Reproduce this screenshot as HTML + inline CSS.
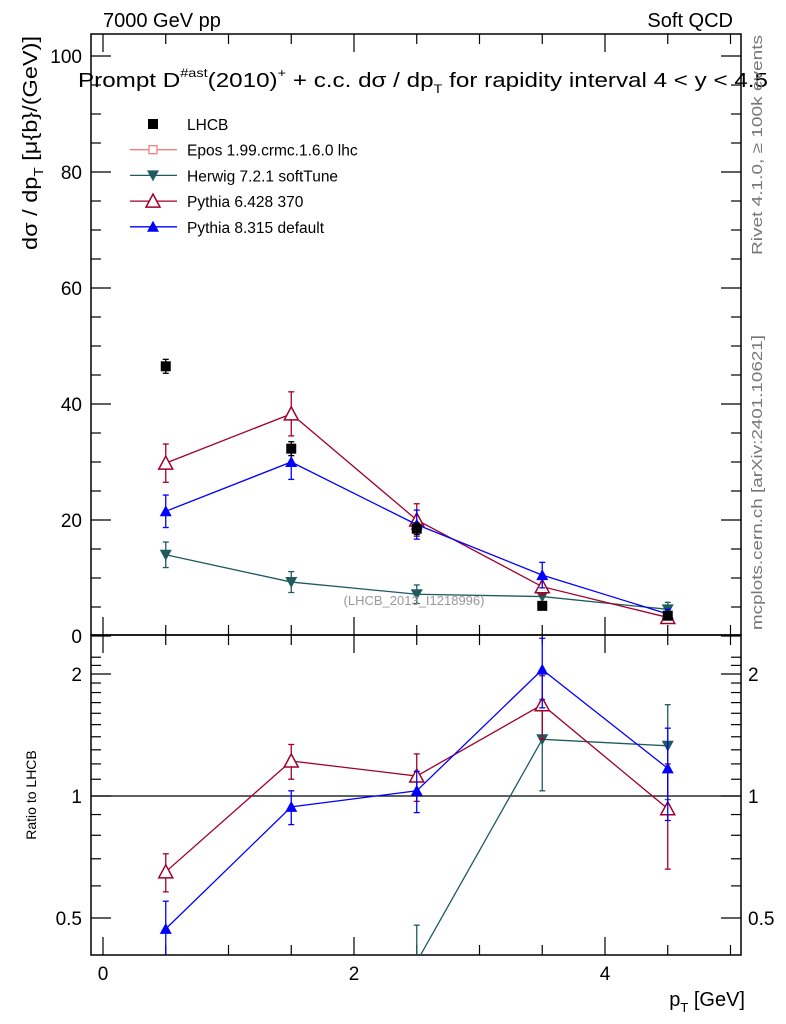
<!DOCTYPE html>
<html><head><meta charset="utf-8"><style>
html,body{margin:0;padding:0;background:#fff}
svg{display:block;font-family:"Liberation Sans",sans-serif}
</style></head><body>
<svg id="c" width="786" height="1024" viewBox="0 0 786 1024">
<g id="g"></g>
<text x="103" y="27" font-size="20">7000 GeV pp</text>
<text x="733" y="27" font-size="20" text-anchor="end">Soft QCD</text>
<text x="78" y="87" font-size="20" textLength="690" lengthAdjust="spacingAndGlyphs">Prompt D<tspan font-size="12" dy="-10">#ast</tspan><tspan dy="10">(2010)</tspan><tspan font-size="12" dy="-10">+</tspan><tspan dy="10"> + c.c.  dσ / dp</tspan><tspan font-size="12" dy="6">T</tspan><tspan dy="-6"> for rapidity interval 4 &lt; y &lt; 4.5</tspan></text>
<text transform="translate(37,250) rotate(-90)" font-size="20" textLength="214" lengthAdjust="spacingAndGlyphs">dσ / dp<tspan font-size="13" dy="6">T</tspan><tspan dy="-6"> [μ{b}/(GeV)]</tspan></text>
<text transform="translate(36,795) rotate(-90)" font-size="14" text-anchor="middle">Ratio to LHCB</text>
<text x="745" y="1006" font-size="20" text-anchor="end">p<tspan font-size="13" dy="6">T</tspan><tspan dy="-6"> [GeV]</tspan></text>
<text x="414" y="605" font-size="13" text-anchor="middle" fill="#999">(LHCB_2013_I1218996)</text>
<text transform="translate(762,255) rotate(-90)" font-size="15" fill="#777" textLength="220" lengthAdjust="spacingAndGlyphs">Rivet 4.1.0, ≥ 100k events</text>
<text transform="translate(762,630) rotate(-90)" font-size="15" fill="#777" textLength="295" lengthAdjust="spacingAndGlyphs">mcplots.cern.ch [arXiv:2401.10621]</text>
</svg>
<script>
const categories=[0.5,1.5,2.5,3.5,4.5];
const lhcb=[46.5,32.3,18.5,5.2,3.5];
const lhcbErr=[1.2,1.2,1.0,0.5,0.4];
const herwig=[14.0,9.3,7.2,6.8,4.6];
const herwigErr=[2.2,1.8,1.6,1.4,1.2];
const pythia6=[29.8,38.3,20.0,8.5,3.2];
const pythia6Err=[3.3,3.8,2.8,1.5,0.8];
const pythia8=[21.5,30.0,19.2,10.5,3.8];
const pythia8Err=[2.8,3.0,2.5,2.2,0.8];
const herwigRatio=[0.30,0.29,0.39,1.38,1.33];
const herwigRatioErr=[0.05,0.05,0.09,0.35,0.35];
const pythia6Ratio=[0.65,1.22,1.12,1.68,0.93];
const pythia6RatioErr=[0.07,0.12,0.15,0.3,0.27];
const pythia8Ratio=[0.47,0.94,1.03,2.05,1.17];
const pythia8RatioErr=[0.08,0.09,0.12,0.4,0.3];
const xTicks=[0,2,4];
const yTicks=[0,20,40,60,80,100];
const rTicks=[0.5,1,2];

const NS='http://www.w3.org/2000/svg';
const g=document.getElementById('g');
const L=91,R=741,T=34,M=635,B=955;
function X(v){return 103+(v)*125.5;}
function Y(v){return 636-v*5.8;}
function RY(v){return 796-Math.log2(v)*122;}
function el(t,a,p){const e=document.createElementNS(NS,t);for(const k in a)e.setAttribute(k,a[k]);(p||g).appendChild(e);return e;}
function txt(s,x,y,size,anchor,fill){const e=el('text',{x:x,y:y,'font-size':size,'text-anchor':anchor||'start',fill:fill||'#000'});e.textContent=s;return e;}

const defs=el('defs',{});
const c1=el('clipPath',{id:'ctop'},defs);el('rect',{x:L,y:T,width:R-L,height:M-T},c1);
const c2=el('clipPath',{id:'cbot'},defs);el('rect',{x:L,y:M,width:R-L,height:B-M},c2);

let f=el('rect',{x:L,y:T,width:R-L,height:M-T,fill:'none',stroke:'#000','stroke-width':1.5});

f=el('rect',{x:L,y:M,width:R-L,height:B-M,fill:'none',stroke:'#000','stroke-width':1.5});


for(let v=0;v<=5;v+=0.5){const maj=Math.abs(v%2)<1e-9;const len=maj?18:10;const x=X(v);
 el('line',{x1:x,y1:M,x2:x,y2:M-len,stroke:'#000','stroke-width':1.2});
 el('line',{x1:x,y1:T,x2:x,y2:T+len,stroke:'#000','stroke-width':1.2});
 el('line',{x1:x,y1:B,x2:x,y2:B-len,stroke:'#000','stroke-width':1.2});
 el('line',{x1:x,y1:M,x2:x,y2:M+len,stroke:'#000','stroke-width':1.2});}
xTicks.forEach(v=>{const t=txt(String(v),X(v),980,19,'middle');});
for(let v=0;v<=100;v+=5){const maj=v%20===0;const len=maj?20:10;const y=Y(v);
 el('line',{x1:L,y1:y,x2:L+len,y2:y,stroke:'#000','stroke-width':1.2});
 el('line',{x1:R,y1:y,x2:R-len,y2:y,stroke:'#000','stroke-width':1.2});}
yTicks.forEach(v=>{const t=txt(String(v),82,Y(v)+7,19,'end');});
const rMinor=[0.4,0.6,0.7,0.8,0.9,1.1,1.2,1.3,1.4,1.5,1.6,1.7,1.8,1.9,2.1,2.2];
rMinor.forEach(v=>{const y=RY(v);if(y<M||y>B)return;
 el('line',{x1:L,y1:y,x2:L+10,y2:y,stroke:'#000','stroke-width':1.2});
 el('line',{x1:R,y1:y,x2:R-10,y2:y,stroke:'#000','stroke-width':1.2});});
rTicks.forEach(v=>{const y=RY(v);
 el('line',{x1:L,y1:y,x2:L+20,y2:y,stroke:'#000','stroke-width':1.2});
 el('line',{x1:R,y1:y,x2:R-20,y2:y,stroke:'#000','stroke-width':1.2});
 let t=txt(String(v),82,y+7,19,'end');
 t=txt(String(v),748,y+7,19,'start');});
el('line',{x1:L,y1:RY(1),x2:R,y2:RY(1),stroke:'#000','stroke-width':1.2});

function marker(type,x,y,color,p){
 if(type==='sq')return el('rect',{x:x-5,y:y-5,width:10,height:10,fill:color},p);
 if(type==='down')return el('polygon',{points:`${x-6},${y-5} ${x+6},${y-5} ${x},${y+6}`,fill:color},p);
 if(type==='upo')return el('polygon',{points:`${x-7},${y+6} ${x+7},${y+6} ${x},${y-7}`,fill:'#fff',stroke:color,'stroke-width':1.5},p);
 if(type==='up')return el('polygon',{points:`${x-6},${y+5} ${x+6},${y+5} ${x},${y-6}`,fill:color},p);
}
function series(name,vals,errs,yf,color,type,clip,line){
 const grp=el('g',{'clip-path':`url(#${clip})`});
 
 if(line){const pts=categories.map((c,i)=>X(c)+','+yf(vals[i])).join(' ');
  el('polyline',{points:pts,fill:'none',stroke:color,'stroke-width':1.3},grp);}
 categories.forEach((c,i)=>{const x=X(c);
  const y1=yf(Math.max(vals[i]-errs[i],0.01)),y2=yf(vals[i]+errs[i]);
  el('line',{x1:x,y1:y1,x2:x,y2:y2,stroke:color,'stroke-width':1.3},grp);
  el('line',{x1:x-3,y1:y1,x2:x+3,y2:y1,stroke:color,'stroke-width':1.3},grp);
  el('line',{x1:x-3,y1:y2,x2:x+3,y2:y2,stroke:color,'stroke-width':1.3},grp);
  const m=marker(type,x,yf(vals[i]),color,grp);
  });
}
series('herwig-series',herwig,herwigErr,Y,'#1f5a5f','down','ctop',true);
series('pythia6-series',pythia6,pythia6Err,Y,'#a0002a','upo','ctop',true);
series('pythia8-series',pythia8,pythia8Err,Y,'#0000ff','up','ctop',true);
series('lhcb-data',lhcb,lhcbErr,Y,'#000','sq','ctop',false);
series('herwig-ratio',herwigRatio,herwigRatioErr,RY,'#1f5a5f','down','cbot',true);
series('pythia6-ratio',pythia6Ratio,pythia6RatioErr,RY,'#a0002a','upo','cbot',true);
series('pythia8-ratio',pythia8Ratio,pythia8RatioErr,RY,'#0000ff','up','cbot',true);

const leg=[['LHCB','#000','sq',false],['Epos 1.99.crmc.1.6.0 lhc','#f08080','epos',true],['Herwig 7.2.1 softTune','#1f5a5f','down',true],['Pythia 6.428 370','#a0002a','upo',true],['Pythia 8.315 default','#0000ff','up',true]];
leg.forEach((l,i)=>{const y=124+i*25.7;const lg=el('g',{});
 
 if(l[3])el('line',{x1:130,y1:y,x2:177,y2:y,stroke:l[1],'stroke-width':1.3},lg);
 if(l[2]==='epos')el('rect',{x:149,y:y-4,width:8,height:8,fill:'#fff',stroke:l[1],'stroke-width':1.3},lg);
 else marker(l[2],153,y,l[1],lg);
 const t=txt(l[0],187,y+6,15.5,'start');lg.appendChild(t);});
</script>
</body></html>
